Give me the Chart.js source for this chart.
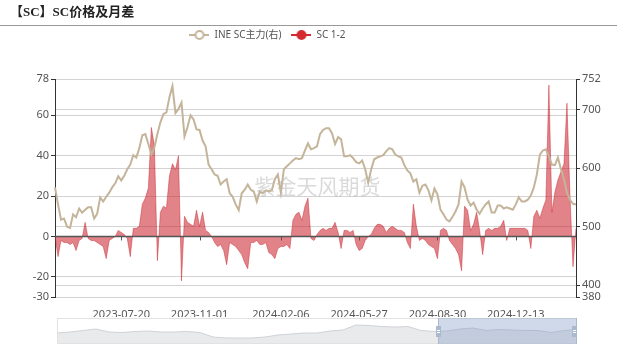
<!DOCTYPE html>
<html>
<head>
<meta charset="utf-8">
<script src="https://cdn.jsdelivr.net/npm/chart.js@4/dist/chart.umd.min.js"></script>
<style>
  html, body { margin: 0; padding: 0; background: #fff; }
  #wrap { position: relative; width: 617px; height: 349px; }
  #mainBox { position: absolute; left: 0; top: 0; width: 617px; height: 349px; }
  #miniBox { position: absolute; left: 57px; top: 318px; width: 520px; height: 26px; }
</style>
</head>
<body>
<div id="wrap">
  <div id="mainBox"><canvas id="main"></canvas></div>
  <div id="miniBox"><canvas id="mini"></canvas></div>
</div>
<script>
const titleText = "【SC】SC价格及月差";
const watermark = "紫金天风期货";
const priceName = "INE SC主力(右)";
const spreadName = "SC 1-2";

const tickLabels = ["2023-07-20", "2023-11-01", "2024-02-06", "2024-05-27", "2024-08-30", "2024-12-13"];
const tickIndex = [22, 48, 75, 101, 127, 153];
const leftTicks = [-30, -20, 0, 20, 40, 60, 78];
const rightTicks = [380, 400, 500, 600, 700, 752];

// INE SC main contract (right axis)
const scPrice = [
  567, 538, 512, 514, 500, 498, 521, 516, 531, 524,
  529, 533, 533, 514, 522, 550, 543, 551, 558, 567,
  574, 586, 579, 587, 598, 606, 622, 618, 634, 656,
  658, 641, 623, 635, 658, 678, 692, 695, 721, 740,
  694, 701, 712, 654, 670, 690, 683, 666, 665, 647,
  637, 606, 598, 589, 587, 572, 577, 581, 557, 551,
  538, 528, 557, 563, 572, 563, 560, 543, 560, 557,
  562, 560, 562, 581, 589, 558, 598, 603, 608, 613,
  617, 615, 617, 630, 642, 632, 634, 637, 658, 665,
  668, 668, 659, 641, 653, 649, 620, 620, 622, 617,
  610, 608, 613, 598, 575, 598, 615, 618, 620, 622,
  629, 634, 632, 623, 620, 618, 605, 596, 591, 577,
  581, 558, 570, 572, 562, 545, 565, 555, 529, 521,
  512, 509, 517, 526, 538, 577, 567, 546, 536, 541,
  529, 522, 531, 538, 543, 524, 524, 536, 536, 531,
  533, 531, 529, 538, 550, 543, 543, 546, 553, 567,
  589, 623, 630, 632, 620, 606, 605, 618, 598, 581,
  558, 546, 539, 538
];

// SC 1-2 month spread (left axis)
const scSpread = [
  0, -10, -2, -3, -3, -4, -3, -7, -2, -1,
  7, -1, -2, -2, -3, -4, -5, -11, -2, -1,
  0, 3, 2, 1, -1, -10, 4, 4, 5, 16,
  19, 24, 54, 45, -12, 12, 15, 14, 30, 36,
  33, 40, -22, 10, 7, 6, 5, 13, 5, 12,
  3, 2, 0, -3, -5, -4, -7, -14, -3, -4,
  -5, -7, -9, -13, -16, -3, -3, -2, -4, -4,
  -3, -8, -9, -11, -6, -5, -5, -4, -6, 8,
  11, 12, 8, 15, 19, -1, -2, 1, 3, 4,
  3, 4, 4, 7, 2, -6, 3, 3, 2, 3,
  -4, -7, -6, -2, 0, 1, 4, 6, 6, 5,
  2, 4, 5, 4, 3, 3, 2, -3, -6, 16,
  5, -2, -1, -2, -4, -5, -6, -11, 3, 4,
  3, -2, -4, -6, -9, -17, 15, 13, 3, 6,
  12, 3, -9, 3, 4, 3, 4, 4, 5, 8,
  -2, 4, 4, 4, 4, 4, 4, 3, -6, 10,
  13, 9, 14, 18, 75, 12, 22, 28, 32, 36,
  66, 20, -15, 4
];

// overview series shown in the zoom slider
const miniSeries = [
  11, 12, 13.5, 15, 12, 11.5, 12.5, 13, 12, 12,
  12.5, 11.5, 7, 6, 6, 6, 7, 9, 10, 11,
  11, 13, 14, 19, 18.5, 17.5, 17, 17.5, 13.5, 12.5,
  13, 15, 16, 13.5, 14.5, 14, 13.5, 13.5, 11.5, 13.5,
  14.5
];

const categories = [];
const d0 = new Date(Date.UTC(2023, 3, 24));
for (let i = 0; i < scPrice.length; i++) {
  const d = new Date(d0.getTime() + i * 4 * 86400000);
  categories.push(d.toISOString().slice(0, 10));
}

const priceColor = "#c4b49a";
const spreadColor = "rgba(200, 30, 40, 0.55)";
const fontFamily = "'Noto Sans', 'Noto Sans CJK SC', sans-serif";

function legendIcon(color, filled) {
  const c = document.createElement("canvas");
  c.width = 20;
  c.height = 12;
  const g = c.getContext("2d");
  g.strokeStyle = color;
  g.lineWidth = 2;
  g.beginPath();
  g.moveTo(0, 6);
  g.lineTo(20, 6);
  g.stroke();
  g.beginPath();
  g.arc(10, 6, 4, 0, Math.PI * 2);
  g.fillStyle = filled ? color : "#fff";
  g.fill();
  g.stroke();
  return c;
}

const decorPlugin = {
  id: "decor",
  afterInit(chart) {
    const fit = chart.legend.fit;
    chart.legend.fit = function () {
      fit.call(this);
      this.height += 29;
    };
  },
  afterLayout(chart) {
    chart.legend.left -= 41;
    chart.legend.right -= 41;
  },
  beforeDraw(chart) {
    const g = chart.ctx;
    g.save();
    g.fillStyle = "#222";
    g.font = "bold 13px 'Liberation Serif', 'Noto Sans CJK SC', serif";
    g.textBaseline = "middle";
    g.fillText(titleText, 10, 13);
    g.strokeStyle = "#999";
    g.lineWidth = 1;
    g.beginPath();
    g.moveTo(0, 25.5);
    g.lineTo(chart.width, 25.5);
    g.stroke();
    g.restore();
  },
  beforeDatasetsDraw(chart) {
    const g = chart.ctx;
    const a = chart.chartArea;
    g.save();
    g.fillStyle = "rgba(150, 150, 150, 0.35)";
    g.font = "21px 'Noto Sans CJK SC', sans-serif";
    g.textAlign = "center";
    g.textBaseline = "middle";
    g.fillText(watermark, (a.left + a.right) / 2 + 2, 186);
    g.restore();
  },
  afterDatasetsDraw(chart) {
    const g = chart.ctx;
    const xs = chart.scales.x;
    const y0 = chart.scales.y.getPixelForValue(0);
    g.save();
    g.strokeStyle = "#555";
    g.lineWidth = 1.5;
    g.beginPath();
    g.moveTo(chart.chartArea.left, y0);
    g.lineTo(chart.chartArea.right, y0);
    g.stroke();
    g.lineWidth = 1;
    tickIndex.forEach(i => {
      const x = Math.round(xs.getPixelForValue(i)) + 0.5;
      g.beginPath();
      g.moveTo(x, y0);
      g.lineTo(x, y0 + 4);
      g.stroke();
    });
    g.restore();
  }
};

new Chart(document.getElementById("main"), {
  type: "line",
  data: {
    labels: categories,
    datasets: [
      {
        label: priceName,
        data: scPrice,
        yAxisID: "y1",
        borderColor: priceColor,
        backgroundColor: priceColor,
        borderWidth: 2,
        pointRadius: 0,
        pointStyle: legendIcon(priceColor, false),
        tension: 0,
        fill: false
      },
      {
        label: spreadName,
        data: scSpread,
        yAxisID: "y",
        borderColor: spreadColor,
        backgroundColor: spreadColor,
        borderWidth: 0.8,
        pointRadius: 0,
        pointStyle: legendIcon("#d42a2f", true),
        tension: 0,
        fill: "origin"
      }
    ]
  },
  options: {
    responsive: true,
    maintainAspectRatio: false,
    animation: false,
    layout: { padding: { top: 20, bottom: 32, left: 0, right: 0 } },
    plugins: {
      legend: {
        position: "top",
        labels: {
          usePointStyle: true,
          pointStyleWidth: 20,
          color: "#555",
          padding: 10,
          font: { size: 10, family: fontFamily }
        }
      },
      tooltip: { enabled: false }
    },
    scales: {
      x: {
        grid: { display: false },
        border: { display: false },
        ticks: {
          autoSkip: false,
          maxRotation: 0,
          padding: 3,
          color: "#555",
          font: { size: 11, family: fontFamily },
          callback: (v, i) => {
            const k = tickIndex.indexOf(i);
            return k < 0 ? null : tickLabels[k];
          }
        },
        afterFit: s => { s.height = 20; }
      },
      y: {
        position: "left",
        min: -30,
        max: 78,
        afterBuildTicks: axis => { axis.ticks = leftTicks.map(v => ({ value: v })); },
        grid: { color: "#d3d3d3", tickColor: "#333", tickLength: 4 },
        border: { display: true, color: "#333" },
        ticks: { color: "#555", padding: 2, font: { size: 11, family: fontFamily } },
        afterFit: s => { s.width = 55; }
      },
      y1: {
        position: "right",
        min: 380,
        max: 752,
        afterBuildTicks: axis => { axis.ticks = rightTicks.map(v => ({ value: v })); },
        grid: { color: "#d3d3d3", tickColor: "#333", tickLength: 4 },
        border: { display: true, color: "#333" },
        ticks: { color: "#555", padding: 2, font: { size: 11, family: fontFamily } },
        afterFit: s => { s.width = 41; }
      }
    }
  },
  plugins: [decorPlugin]
});

const sliderPlugin = {
  id: "slider",
  afterDraw(chart) {
    const g = chart.ctx;
    const w = chart.width;
    const h = chart.height;
    const x0 = 381;
    g.save();
    g.strokeStyle = "#e2e2e2";
    g.lineWidth = 1;
    g.strokeRect(0.5, 0.5, w - 1, h - 1);
    g.fillStyle = "rgba(135, 160, 200, 0.4)";
    g.fillRect(x0, 0, w - x0, h);
    g.strokeStyle = "#a9b9d0";
    g.beginPath();
    g.moveTo(x0 + 0.5, 0);
    g.lineTo(x0 + 0.5, h);
    g.moveTo(w - 0.5, 0);
    g.lineTo(w - 0.5, h);
    g.stroke();
    [x0, w - 3].forEach(x => {
      g.fillStyle = "#a9b9d0";
      g.fillRect(x - 2, 8, 5, 11);
      g.strokeStyle = "#fff";
      g.beginPath();
      g.moveTo(x - 1, 12.5);
      g.lineTo(x + 2, 12.5);
      g.moveTo(x - 1, 14.5);
      g.lineTo(x + 2, 14.5);
      g.stroke();
    });
    g.restore();
  }
};

new Chart(document.getElementById("mini"), {
  type: "line",
  data: {
    labels: miniSeries.map((_, i) => i),
    datasets: [{
      data: miniSeries,
      borderColor: "#cfd2d6",
      backgroundColor: "#e9eaec",
      borderWidth: 1,
      pointRadius: 0,
      tension: 0,
      fill: "origin"
    }]
  },
  options: {
    responsive: true,
    maintainAspectRatio: false,
    animation: false,
    events: [],
    layout: { padding: 0 },
    plugins: { legend: { display: false }, tooltip: { enabled: false } },
    scales: {
      x: { display: false },
      y: { display: false, min: 0, max: 26 }
    }
  },
  plugins: [sliderPlugin]
});
</script>
</body>
</html>
